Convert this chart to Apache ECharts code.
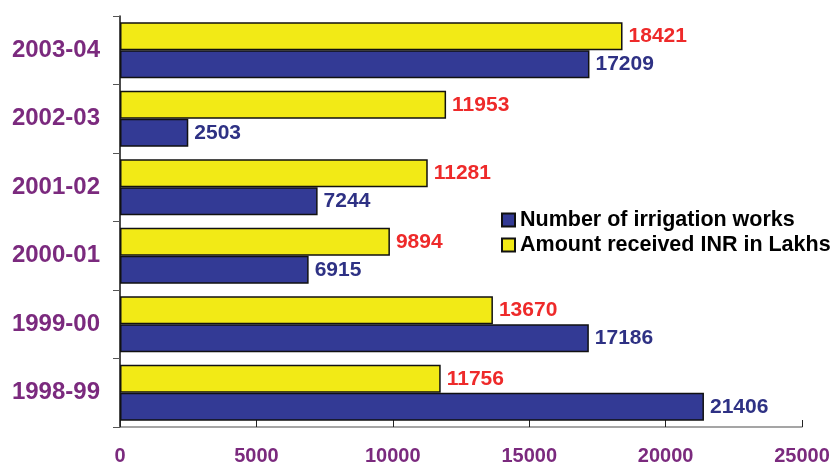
<!DOCTYPE html>
<html>
<head>
<meta charset="utf-8">
<script src="https://cdn.jsdelivr.net/npm/echarts@6/dist/echarts.min.js"></script>
<style>
  html, body { margin: 0; padding: 0; background: #fff; }
  #chart { width: 837px; height: 466px; }
</style>
</head>
<body>
<div id="chart"></div>
<script>
// years, bottom to top
var years = ['1998-99', '1999-00', '2000-01', '2001-02', '2002-03', '2003-04'];
var works = [21406, 17186, 6915, 7244, 2503, 17209];
var amount = [11756, 13670, 9894, 11281, 11953, 18421];
var xTicks = [0, 5000, 10000, 15000, 20000, 25000];

var purple = '#7b2a7e';
var font = 'Liberation Sans, Arial, sans-serif';
var chart = echarts.init(document.getElementById('chart'));

function barLabel(color) {
  return {
    show: true,
    position: 'right',
    distance: 6,
    fontFamily: font,
    fontWeight: 'bold',
    fontSize: 21,
    color: color
  };
}

chart.setOption({
  animation: false,
  grid: { left: 120, right: 35, top: 16, bottom: 39 },
  legend: {
    orient: 'vertical',
    left: 496,
    top: 204,
    itemWidth: 13,
    itemHeight: 13,
    itemGap: 3,
    textStyle: { fontFamily: font, fontWeight: 'bold', fontSize: 21.5, color: '#000' },
    data: [
      { name: 'Number of irrigation works', icon: 'rect' },
      { name: 'Amount received INR in Lakhs', icon: 'rect' }
    ]
  },
  xAxis: {
    type: 'value',
    min: 0,
    max: 25000,
    interval: 5000,
    axisLine: { show: true, lineStyle: { color: '#888', width: 1.5 } },
    axisTick: { show: true, inside: true, length: 7, lineStyle: { color: '#222' } },
    splitLine: { show: false },
    axisLabel: {
      margin: 19,
      fontFamily: font,
      fontWeight: 'bold',
      fontSize: 20,
      color: purple,
      formatter: function (v) { return xTicks.indexOf(v) >= 0 ? String(v) : ''; }
    }
  },
  yAxis: {
    type: 'category',
    data: years,
    axisLine: { show: true, lineStyle: { color: '#111', width: 1.5 } },
    axisTick: { show: true, length: 7, lineStyle: { color: '#555' } },
    axisLabel: {
      margin: 20,
      fontFamily: font,
      fontWeight: 'bold',
      fontSize: 24,
      color: purple
    }
  },
  series: [
    {
      name: 'Amount received INR in Lakhs',
      type: 'bar',
      data: amount,
      barGap: '0%',
      barCategoryGap: '18%',
      itemStyle: { color: '#f2ea16', borderColor: '#111', borderWidth: 1.5 },
      label: barLabel('#ee2a2a')
    },
    {
      name: 'Number of irrigation works',
      type: 'bar',
      data: works,
      barGap: '0%',
      barCategoryGap: '18%',
      itemStyle: { color: '#333a95', borderColor: '#111', borderWidth: 1.5 },
      label: barLabel('#2e3184')
    }
  ]
});
</script>
</body>
</html>
